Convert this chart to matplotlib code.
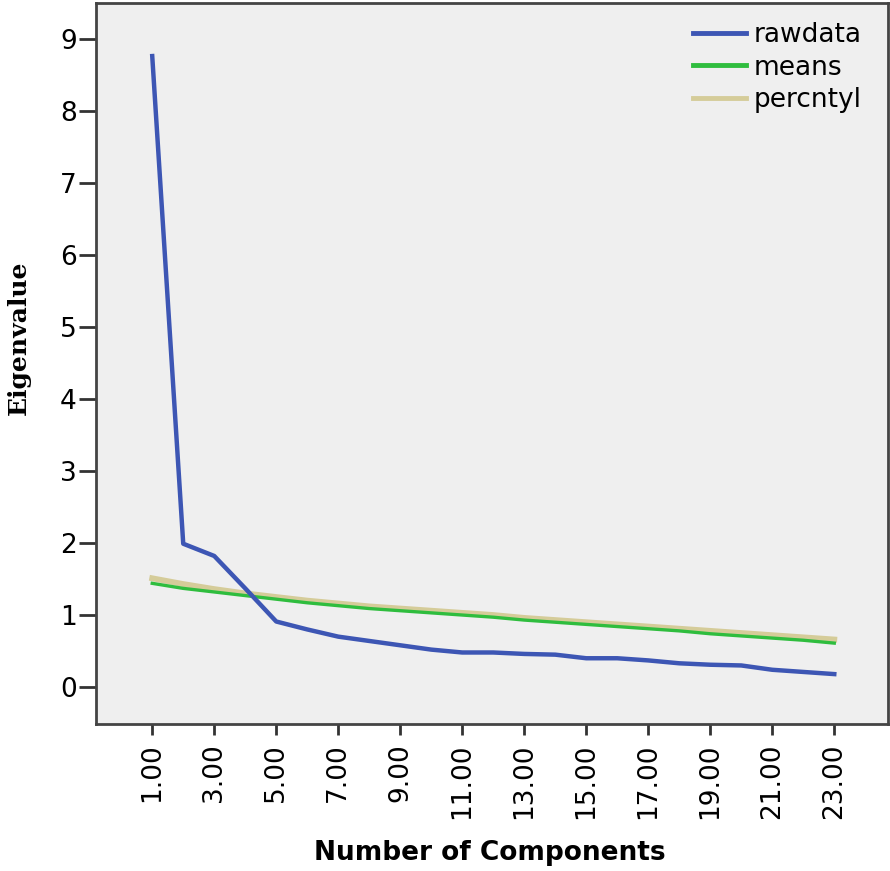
import numpy as np
import matplotlib.pyplot as plt

# scree plot: observed eigenvalues vs parallel-analysis means / percentile
components = list(range(1, 24))
rawdata = [8.76, 1.99, 1.82, 1.37, 0.91, 0.80, 0.70, 0.64, 0.58, 0.52, 0.48,
           0.48, 0.46, 0.45, 0.40, 0.40, 0.37, 0.33, 0.31, 0.30, 0.24, 0.21, 0.18]
means = [1.44, 1.37, 1.32, 1.27, 1.22, 1.17, 1.13, 1.09, 1.06, 1.03, 1.00,
         0.97, 0.93, 0.90, 0.87, 0.84, 0.81, 0.78, 0.74, 0.71, 0.68, 0.65, 0.61]
percntyl = [1.51, 1.43, 1.36, 1.30, 1.25, 1.20, 1.16, 1.12, 1.09, 1.06, 1.03,
            1.00, 0.96, 0.93, 0.90, 0.87, 0.84, 0.81, 0.78, 0.75, 0.72, 0.69, 0.66]
xticks = list(range(1, 24, 2))
yticks = list(range(0, 10))

fig = plt.figure(figsize=(8.9, 8.71), dpi=100)
ax = fig.add_axes([0.108, 0.169, 0.89, 0.827])
ax.set_facecolor('#efefef')

ax.plot(components, rawdata, color='#3d56b4', lw=3.2, label='rawdata', zorder=3)
ax.plot(components, percntyl, color='#d5cc99', lw=4.2, label='percntyl', zorder=2)
ax.plot(components, means, color='#2fbd3e', lw=2.4, label='means', zorder=2.5)

ax.set_xlim(-0.81, 24.74)
ax.set_ylim(-0.51, 9.49)
ax.set_xticks(xticks)
ax.set_xticklabels(['%.2f' % v for v in xticks], rotation=90, fontsize=19)
ax.set_yticks(yticks)
ax.set_yticklabels([str(v) for v in yticks], fontsize=19)
ax.tick_params(axis='x', length=8, width=2, color='#333333', pad=6)
ax.tick_params(axis='y', length=12, width=2, color='#333333', pad=2)
for s in ax.spines.values():
    s.set_color('#444444')
    s.set_linewidth(2)

ax.set_xlabel('Number of Components', fontsize=19, fontweight='bold')
ax.xaxis.set_label_coords(0.4975, -0.162)
ax.set_ylabel('Eigenvalue', fontsize=18, fontweight='bold', family='DejaVu Serif')
ax.yaxis.set_label_coords(-0.083, 0.536)

h, l = ax.get_legend_handles_labels()
order = [0, 2, 1]
leg = ax.legend([h[i] for i in order], [l[i] for i in order], loc='upper right',
                frameon=False, fontsize=19, handlelength=2.0, handletextpad=0.3,
                labelspacing=0.25, borderaxespad=0.3, bbox_to_anchor=(0.99, 1.0))
for line in leg.get_lines():
    line.set_linewidth(3.5)

fig.savefig('out.png', dpi=100)
